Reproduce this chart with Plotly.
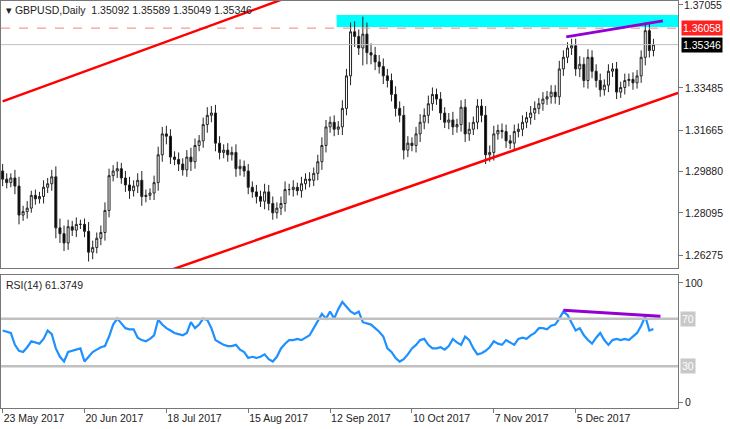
import pandas as pd
import plotly.graph_objects as go
from plotly.subplots import make_subplots

# daily bars, first bar 23 May 2017
first_open = 1.2990
closes = [
    1.2955, 1.2940, 1.2960, 1.2925, 1.2800, 1.2815, 1.2830, 1.2885, 1.2870, 1.2880,
    1.2920, 1.2935, 1.2965, 1.2745, 1.2720, 1.2680, 1.2750, 1.2735, 1.2760, 1.2760,
    1.2730, 1.2640, 1.2660, 1.2700, 1.2725, 1.2820, 1.2970, 1.2990, 1.3000, 1.2960,
    1.2930, 1.2905, 1.2925, 1.2950, 1.2880, 1.2885, 1.2895, 1.2940, 1.3060, 1.3150,
    1.3140, 1.3050, 1.3040, 1.3020, 1.2995, 1.3050, 1.3030, 1.3100, 1.3120, 1.3190,
    1.3230, 1.3240, 1.3110, 1.3070, 1.3080, 1.3060, 1.3070, 1.3000, 1.3010, 1.2990,
    1.2920, 1.2900, 1.2880, 1.2860, 1.2900, 1.2850, 1.2810, 1.2830, 1.2850, 1.2910,
    1.2910, 1.2920, 1.2905, 1.2935, 1.2955, 1.2950, 1.2980, 1.3030, 1.3100, 1.3180,
    1.3200, 1.3170, 1.3180, 1.3260, 1.3400, 1.3590, 1.3570, 1.3520, 1.3580, 1.3500,
    1.3490, 1.3460, 1.3440, 1.3400, 1.3380, 1.3320, 1.3260, 1.3230, 1.3080, 1.3110,
    1.3100, 1.3150, 1.3200, 1.3230, 1.3280, 1.3320, 1.3300, 1.3240, 1.3200, 1.3210,
    1.3180, 1.3190, 1.3265, 1.3150, 1.3170, 1.3200, 1.3270, 1.3230, 1.3060, 1.3070,
    1.3150, 1.3165, 1.3160, 1.3120, 1.3110, 1.3160, 1.3170, 1.3200, 1.3220, 1.3240,
    1.3260, 1.3280, 1.3300, 1.3310, 1.3330, 1.3310, 1.3430, 1.3480, 1.3520, 1.3530,
    1.3430, 1.3450, 1.3380, 1.3480, 1.3420, 1.3380, 1.3340, 1.3360, 1.3420, 1.3430,
    1.3330, 1.3350, 1.3380, 1.3385, 1.3370, 1.3400, 1.3480, 1.3595, 1.3509, 1.35346,
]
# wick length beyond the body, in pips
wicks = [
    30, 25, 20, 35, 40, 25, 30, 20, 25, 20, 30, 25, 30, 45, 40, 35, 30, 25, 30, 20,
    25, 40, 30, 25, 30, 35, 30, 25, 30, 25, 30, 35, 25, 30, 40, 25, 20, 30, 35, 30,
    35, 30, 25, 30, 25, 30, 40, 30, 25, 30, 35, 30, 35, 30, 25, 30, 25, 35, 30, 25,
    30, 25, 30, 25, 35, 30, 30, 25, 30, 35, 25, 30, 20, 30, 25, 30, 25, 30, 35, 30,
    25, 30, 25, 35, 30, 40, 45, 30, 75, 50, 40, 35, 30, 35, 30, 30, 35, 30, 40, 30,
    25, 30, 35, 30, 35, 30, 25, 30, 25, 30, 35, 25, 30, 35, 30, 25, 30, 30, 40, 30,
    35, 25, 30, 30, 25, 30, 25, 30, 25, 30, 30, 25, 30, 25, 30, 30, 35, 30, 25, 30,
    30, 35, 30, 35, 30, 30, 30, 25, 30, 25, 30, 25, 30, 25, 30, 25, 30, 35, 30, 25,
]
rsi = [
    60, 59, 58, 48, 43, 42, 46, 51, 50, 49, 53, 60, 57, 45, 38, 34, 42, 43, 44, 45,
    34, 38, 42, 44, 46, 47, 55, 65, 70, 66, 62, 61, 61, 54, 52, 51, 53, 56, 69, 65,
    62, 60, 58, 57, 56, 58, 67, 62, 65, 70, 69, 62, 52, 50, 48, 47, 47, 48, 44, 42,
    37, 38, 37, 38, 40, 36, 34, 38, 45, 49, 52, 52, 53, 52, 54, 56, 62, 68, 74, 70,
    76, 70, 78, 84, 80, 76, 74, 76, 67, 66, 65, 62, 59, 55, 45, 42, 37, 34, 36, 40,
    45, 48, 52, 53, 48, 45, 45, 46, 44, 47, 53, 50, 48, 55, 52, 45, 40, 41, 43, 46,
    51, 49, 48, 52, 50, 48, 53, 54, 53, 56, 58, 62, 62, 61, 64, 65, 70, 76, 73, 66,
    60, 62, 56, 52, 49, 54, 58, 52, 48, 52, 53, 52, 53, 52, 55, 58, 64, 72, 60, 61.3749,
]
date_ticks = ["23 May 2017", "20 Jun 2017", "18 Jul 2017", "15 Aug 2017",
              "12 Sep 2017", "10 Oct 2017", "7 Nov 2017", "5 Dec 2017"]
price_ticks = [1.37055, 1.33485, 1.31665, 1.29880, 1.28095, 1.26275]
price_labels = ["1.37055", "1.33485", "1.31665", "1.29880", "1.28095", "1.26275"]

opens = [first_open] + closes[:-1]
highs = [max(o, c) + w / 10000 for o, c, w in zip(opens, closes, wicks)]
lows = [min(o, c) - w / 10000 for o, c, w in zip(opens, closes, wicks)]
idx = list(range(len(closes)))
dates = pd.bdate_range("2017-05-23", periods=len(closes))
tick_pos = [dates.get_loc(pd.Timestamp(d)) for d in date_ticks]

fig = make_subplots(rows=2, cols=1, shared_xaxes=True)
fig.add_trace(go.Candlestick(
    x=idx, open=opens, high=highs, low=lows, close=closes,
    increasing=dict(fillcolor="white", line=dict(color="#222", width=1)),
    decreasing=dict(fillcolor="black", line=dict(color="#222", width=1)),
    whiskerwidth=0, showlegend=False), row=1, col=1)
fig.add_trace(go.Scatter(x=idx, y=rsi, mode="lines", line=dict(color="#1e90ff", width=2.2),
                         showlegend=False), row=2, col=1)

# price pane drawings
fig.add_shape(type="rect", x0=81.6, x1=166, y0=1.3611, y1=1.3662, fillcolor="#00ffff",
              line_width=0, layer="below", row=1, col=1)
fig.add_hline(y=1.36058, line=dict(color="#f08080", width=1, dash="dash"), row=1, col=1)
fig.add_hline(y=1.35346, line=dict(color="#c0c0c0", width=1), row=1, col=1)
fig.add_shape(type="line", x0=0, y0=1.3290, x1=69, y1=1.3734,
              line=dict(color="#ff0000", width=2.5), row=1, col=1)
fig.add_shape(type="line", x0=41, y0=1.2563, x1=165, y1=1.3326,
              line=dict(color="#ff0000", width=2.5), row=1, col=1)
fig.add_shape(type="line", x0=137.7, y0=1.3568, x1=161.3, y1=1.3637,
              line=dict(color="#9400d3", width=3), row=1, col=1)
# rsi pane drawings
for lvl in (70, 30):
    fig.add_hline(y=lvl, line=dict(color="#c0c0c0", width=2.5), row=2, col=1)
fig.add_shape(type="line", x0=137, y0=77, x1=160.7, y1=72,
              line=dict(color="#9400d3", width=3), row=2, col=1)

font = dict(family="Liberation Sans", size=10.5, color="#222")
fig.update_layout(
    width=730, height=429, margin=dict(l=1, r=52, t=1, b=21, autoexpand=False),
    plot_bgcolor="white", paper_bgcolor="white", font=font,
    xaxis_rangeslider_visible=False,
)
fig.update_xaxes(range=[-0.4, 165], showgrid=False, showline=True, linecolor="#777",
                 mirror=True, zeroline=False, automargin=False)
fig.update_xaxes(tickvals=tick_pos, ticktext=date_ticks, ticks="outside", ticklen=4,
                 tickcolor="#777", ticklabelposition="outside right", row=2, col=1)
fig.update_yaxes(side="right", showgrid=False, showline=True, linecolor="#777", mirror=True,
                 zeroline=False, ticks="outside", ticklen=4, tickcolor="#777", automargin=False)
fig.update_yaxes(range=[1.2572, 1.37227], tickvals=price_ticks, domain=[0.344, 1],
                 ticktext=price_labels, row=1, col=1)
fig.update_yaxes(range=[-5, 106.7], tickvals=[0, 100], domain=[0, 0.327], row=2, col=1)

ann = [
    dict(x=0.005, y=0.998, xref="paper", yref="paper", xanchor="left", yanchor="top",
         text="▾ GBPUSD,Daily  1.35092 1.35589 1.35049 1.35346", showarrow=False),
    dict(x=0.005, y=0.323, xref="paper", yref="paper", xanchor="left", yanchor="top",
         text="RSI(14) 61.3749", showarrow=False),
    dict(x=1.0, y=price_ticks[0], xref="paper", yref="y", xanchor="left",
         text=price_labels[0], showarrow=False, xshift=4),
]
for val, txt, bg in ((1.36058, "1.36058", "#ff2020"), (1.35346, "1.35346", "black")):
    ann.append(dict(x=1.0, y=val, xref="paper", yref="y", xanchor="left", text=txt,
                    showarrow=False, bgcolor=bg, font=dict(color="white", size=10.5),
                    xshift=3, borderpad=1))
for lvl in (70, 30):
    ann.append(dict(x=1.0, y=lvl, xref="paper", yref="y2", xanchor="left", text=str(lvl),
                    showarrow=False, bgcolor="#c8c8c8", font=dict(color="white", size=10.5),
                    xshift=2))
fig.update_layout(annotations=ann)

fig.write_html("out.html", config={"displayModeBar": False},
               post_script="document.body.style.margin='0';")
